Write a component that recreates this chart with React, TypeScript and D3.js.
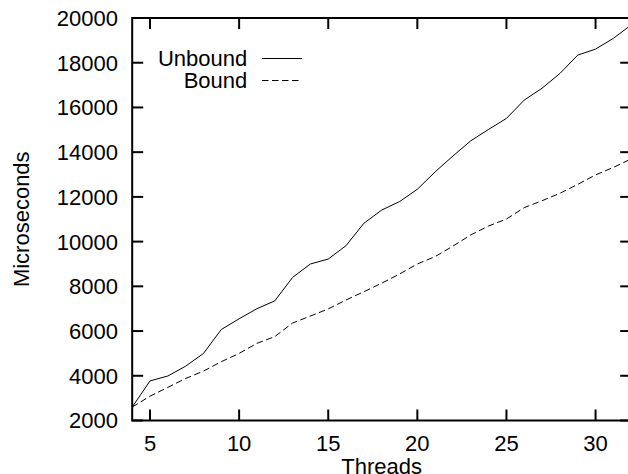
import React from "react";
import * as d3 from "d3";

const threads = [4, 5, 6, 7, 8, 9, 10, 11, 12, 13, 14, 15, 16, 17, 18, 19, 20, 21, 22, 23, 24, 25, 26, 27, 28, 29, 30, 31, 32];
const unbound = [2600, 3770, 3990, 4430, 5000, 6070, 6550, 7000, 7350, 8400, 9000, 9220, 9820, 10820, 11410, 11790, 12340, 13120, 13830, 14510, 15020, 15510, 16330, 16860, 17520, 18340, 18610, 19090, 19690];
const bound = [2600, 3090, 3480, 3880, 4210, 4630, 5000, 5450, 5750, 6360, 6670, 6990, 7390, 7760, 8140, 8550, 9000, 9330, 9800, 10300, 10700, 11010, 11520, 11830, 12160, 12560, 12980, 13320, 13700];
const xTicks = [5, 10, 15, 20, 25, 30];
const yTicks = [2000, 4000, 6000, 8000, 10000, 12000, 14000, 16000, 18000, 20000];
const seriesNames = ["Unbound", "Bound"];

const W = 628;
const H = 474;
const L = 132.2;
const R = 631.2;
const T = 18;
const B = 420.5;
const FONT = "'Liberation Sans', Arial, Helvetica, sans-serif";
const FS = 22;
const TICK = 11;

export default function App() {
  const x = d3.scaleLinear().domain([4, 32]).range([L, R]);
  const y = d3.scaleLinear().domain([2000, 20000]).range([B, T]);
  const line = d3
    .line<number>()
    .x((_, i) => x(threads[i]))
    .y((d) => y(d));

  return (
    <svg
      width={W}
      height={H}
      style={{ position: "absolute", left: 0, top: 0, background: "#fff" }}
      fontFamily={FONT}
      fontSize={FS}
    >
      <rect x={0} y={0} width={W} height={H} fill="#fff" />
      {/* data lines */}
      <path d={line(unbound) || ""} fill="none" stroke="#000" strokeWidth={1} />
      <path d={line(bound) || ""} fill="none" stroke="#000" strokeWidth={1} strokeDasharray="6.5,3.5" />

      {/* frame */}
      <rect x={L} y={T} width={R - L} height={B - T} fill="none" stroke="#000" strokeWidth={2} />

      {/* y ticks */}
      {yTicks.map((v) => (
        <g key={"y" + v}>
          <line x1={L} x2={L + TICK} y1={y(v)} y2={y(v)} stroke="#000" strokeWidth={2} />
          <line x1={R} x2={R - TICK} y1={y(v)} y2={y(v)} stroke="#000" strokeWidth={2} />
          <text x={118} y={y(v)} dy="0.36em" textAnchor="end" fill="#000">
            {v}
          </text>
        </g>
      ))}

      {/* x ticks */}
      {xTicks.map((v) => (
        <g key={"x" + v}>
          <line x1={x(v)} x2={x(v)} y1={B} y2={B - TICK} stroke="#000" strokeWidth={2} />
          <line x1={x(v)} x2={x(v)} y1={T} y2={T + TICK} stroke="#000" strokeWidth={2} />
          <text x={x(v)} y={451} textAnchor="middle" fill="#000">
            {v}
          </text>
        </g>
      ))}

      {/* axis titles */}
      <text x={(L + R) / 2} y={473.5} textAnchor="middle" fill="#000">
        Threads
      </text>
      <text
        transform={`translate(28.5, ${(T + B) / 2}) rotate(-90)`}
        textAnchor="middle"
        fill="#000"
      >
        Microseconds
      </text>

      {/* legend */}
      <text x={247.3} y={66} textAnchor="end" fill="#000">
        {seriesNames[0]}
      </text>
      <line x1={262} x2={302} y1={58.5} y2={58.5} stroke="#000" strokeWidth={1} />
      <text x={247.3} y={88} textAnchor="end" fill="#000">
        {seriesNames[1]}
      </text>
      <line x1={262} x2={302} y1={80.5} y2={80.5} stroke="#000" strokeWidth={1} strokeDasharray="6.5,3.5" />
    </svg>
  );
}
